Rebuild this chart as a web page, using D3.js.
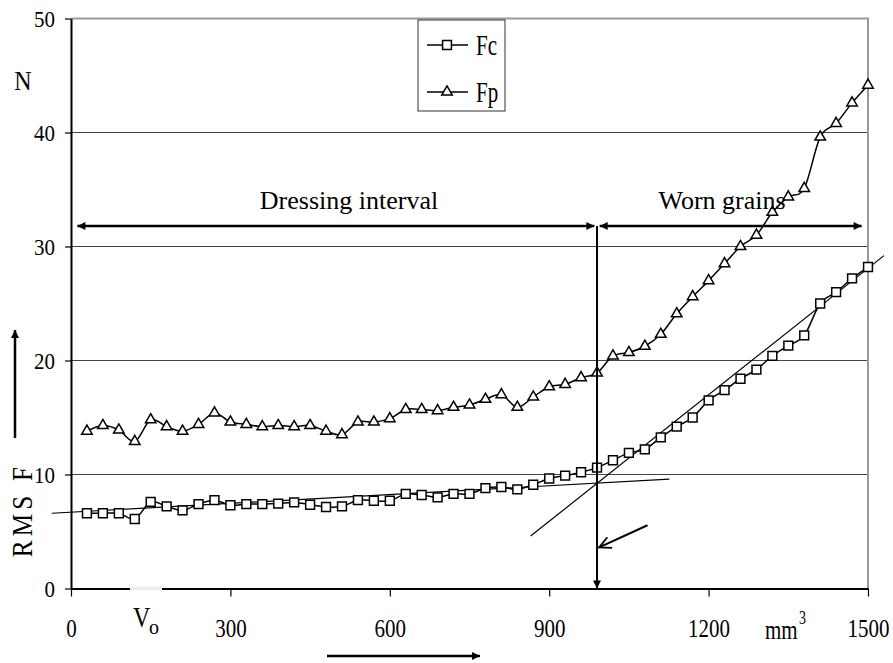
<!DOCTYPE html>
<html>
<head>
<meta charset="utf-8">
<script src="https://cdn.jsdelivr.net/npm/d3@7"></script>
<style>
  body { margin: 0; background: #fff; }
  svg { display: block; font-family: "Liberation Serif", "Times New Roman", serif; }
</style>
</head>
<body>
<div id="chart"></div>
<script>
////////////////////////////////////////////////////////////////////
////////////////////////////  Data  ////////////////////////////////

const volume = [30, 60, 90, 120, 150, 180, 210, 240, 270, 300,
  330, 360, 390, 420, 450, 480, 510, 540, 570, 600,
  630, 660, 690, 720, 750, 780, 810, 840, 870, 900,
  930, 960, 990, 1020, 1050, 1080, 1110, 1140, 1170, 1200,
  1230, 1260, 1290, 1320, 1350, 1380, 1410, 1440, 1470, 1500];

const fc = [6.6, 6.6, 6.6, 6.1, 7.6, 7.2, 6.85, 7.4, 7.75, 7.3,
  7.4, 7.4, 7.45, 7.55, 7.35, 7.15, 7.2, 7.75, 7.7, 7.7,
  8.3, 8.2, 8.0, 8.3, 8.3, 8.8, 8.9, 8.7, 9.1, 9.65,
  9.9, 10.2, 10.6, 11.25, 11.9, 12.2, 13.25, 14.2, 15.0, 16.5,
  17.4, 18.4, 19.2, 20.4, 21.3, 22.2, 25.0, 26.0, 27.2, 28.2];

const fp = [13.8, 14.3, 13.9, 12.9, 14.8, 14.2, 13.8, 14.4, 15.4, 14.6,
  14.4, 14.2, 14.3, 14.2, 14.3, 13.8, 13.5, 14.6, 14.6, 14.9,
  15.7, 15.7, 15.6, 15.9, 16.1, 16.6, 17.0, 15.9, 16.8, 17.7,
  17.9, 18.5, 18.9, 20.4, 20.7, 21.25, 22.3, 24.1, 25.6, 27.0,
  28.5, 30.0, 31.0, 33.0, 34.35, 35.1, 39.6, 40.8, 42.6, 44.15];

const xTicks = [0, 300, 600, 900, 1200, 1500];
const yTicks = [0, 10, 20, 30, 40, 50];

// tangent lines [x, F]
const tangentFlat = [[-36, 6.6], [1126, 9.6]];
const tangentSteep = [[865, 4.6], [1530, 29.2]];

// interval markers
const markVolume = 990;
const intervalLevel = 31.8;
const dressing = [12, 985];
const worn = [995, 1488];
const pointer = [[1085, 5.55], [994, 3.6]];

////////////////////////////////////////////////////////////////////
////////////////////////////  Init  ////////////////////////////////

const width = 893;
const height = 663;
const margin = { top: 18.5, right: 25, bottom: 74.5, left: 71 };
const serif = '"Liberation Serif", "Times New Roman", serif';

const svg = d3.select("#chart").append("svg")
  .attr("width", width)
  .attr("height", height);

svg.append("rect").attr("width", width).attr("height", height).attr("fill", "#fff");

const defs = svg.append("defs");
defs.append("marker")
  .attr("id", "head")
  .attr("viewBox", "0 0 10 10")
  .attr("refX", 10).attr("refY", 5)
  .attr("markerWidth", 10).attr("markerHeight", 8)
  .attr("markerUnits", "userSpaceOnUse")
  .attr("orient", "auto-start-reverse")
  .append("path")
  .attr("d", "M0,0 L10,5 L0,10 z")
  .attr("fill", "#000");

defs.append("marker")
  .attr("id", "open")
  .attr("viewBox", "0 0 12 12")
  .attr("refX", 11).attr("refY", 6)
  .attr("markerWidth", 14).attr("markerHeight", 14)
  .attr("markerUnits", "userSpaceOnUse")
  .attr("orient", "auto")
  .append("path")
  .attr("d", "M1,1 L11,6 L1,11")
  .attr("fill", "none")
  .attr("stroke", "#000")
  .attr("stroke-width", 1.6);

// scales
const xScale = d3.scaleLinear().domain([0, 1500]).range([margin.left, width - margin.right]);
const yScale = d3.scaleLinear().domain([0, 50]).range([height - margin.bottom, margin.top]);

// gridlines
svg.append("g")
  .selectAll("line")
  .data(yTicks.filter((d) => d > 0 && d < 50))
  .join("line")
  .attr("x1", xScale(0)).attr("x2", xScale(1500))
  .attr("y1", (d) => yScale(d)).attr("y2", (d) => yScale(d))
  .attr("stroke", "#444")
  .attr("stroke-width", 1);

// plot border top / right
svg.append("path")
  .attr("d", `M${xScale(0)},${yScale(50)} H${xScale(1500)} V${yScale(0)}`)
  .attr("fill", "none")
  .attr("stroke", "#999")
  .attr("stroke-width", 2);

// axis
const xAxis = d3.axisBottom(xScale)
  .tickValues(xTicks)
  .tickFormat(d3.format("d"))
  .tickSize(8)
  .tickSizeOuter(0);
const yAxis = d3.axisLeft(yScale)
  .tickValues(yTicks)
  .tickFormat(d3.format("d"))
  .tickSize(6)
  .tickPadding(10)
  .tickSizeOuter(0);

const gx = svg.append("g")
  .attr("class", "x-axis")
  .attr("transform", `translate(0, ${yScale(0)})`)
  .call(xAxis);

const gy = svg.append("g")
  .attr("class", "y-axis")
  .attr("transform", `translate(${xScale(0)}, 0)`)
  .call(yAxis);

[gx, gy].forEach((g) => {
  g.attr("font-family", null);
  g.select(".domain").attr("stroke", "#000").attr("stroke-width", 2);
  g.selectAll(".tick line").attr("stroke", "#000").attr("stroke-width", 1.2);
  g.selectAll(".tick text")
    .attr("fill", "#000")
    .style("font-family", serif)
    .style("font-size", "21px");
});
gx.selectAll(".tick text").attr("y", 24).attr("transform", "scale(1,1.24)");
gy.selectAll(".tick text").attr("transform", "scale(1,1.12)");

// gap in x axis behind V0
svg.append("rect")
  .attr("x", 130).attr("y", yScale(0) - 2)
  .attr("width", 32).attr("height", 4)
  .attr("fill", "#eee");

////////////////////////////////////////////////////////////////////
////////////////////////////  Marks  ///////////////////////////////

const tangent = d3.line().x((d) => xScale(d[0])).y((d) => yScale(d[1]));
[tangentFlat, tangentSteep].forEach((t) => {
  svg.append("path")
    .attr("d", tangent(t))
    .attr("fill", "none")
    .attr("stroke", "#000")
    .attr("stroke-width", 1.2);
});

const series = [
  { name: "Fc", values: fc, symbol: d3.symbolSquare, size: 78 },
  { name: "Fp", values: fp, symbol: d3.symbolTriangle, size: 48 }
];

const line = d3.line()
  .curve(d3.curveCardinal.tension(0))
  .x((d, i) => xScale(volume[i]))
  .y((d) => yScale(d));

series.forEach((s) => {
  svg.append("path")
    .datum(s.values)
    .attr("d", line)
    .attr("fill", "none")
    .attr("stroke", "#000")
    .attr("stroke-width", 1.5);

  svg.append("g")
    .selectAll("path")
    .data(s.values)
    .join("path")
    .attr("transform", (d, i) => `translate(${xScale(volume[i])},${yScale(d)})`)
    .attr("d", d3.symbol(s.symbol, s.size))
    .attr("fill", "#fff")
    .attr("stroke", "#000")
    .attr("stroke-width", 1.5);
});

////////////////////////////////////////////////////////////////////
////////////////////////////  Annotations  /////////////////////////

// vertical marker down to the axis
svg.append("line")
  .attr("x1", xScale(markVolume)).attr("x2", xScale(markVolume))
  .attr("y1", yScale(intervalLevel)).attr("y2", yScale(0))
  .attr("stroke", "#000").attr("stroke-width", 2)
  .attr("marker-end", "url(#head)");

// interval arrows
[dressing, worn].forEach((r) => {
  svg.append("line")
    .attr("x1", xScale(r[0])).attr("x2", xScale(r[1]))
    .attr("y1", yScale(intervalLevel)).attr("y2", yScale(intervalLevel))
    .attr("stroke", "#000").attr("stroke-width", 2.5)
    .attr("marker-start", "url(#head)")
    .attr("marker-end", "url(#head)");
});

svg.append("path")
  .attr("d", tangent(pointer))
  .attr("fill", "none")
  .attr("stroke", "#000").attr("stroke-width", 2)
  .attr("marker-end", "url(#open)");

function label(x, y, txt, size, anchor, sy) {
  return svg.append("text")
    .attr("transform", `translate(${x},${y}) scale(1,${sy || 1})`)
    .attr("text-anchor", anchor || "start")
    .style("font-family", serif)
    .style("font-size", size + "px")
    .attr("fill", "#000")
    .text(txt);
}

label(349, 209, "Dressing interval", 26, "middle");
label(722, 209, "Worn grains", 26, "middle");

// y label
label(23, 90, "N", 24, "middle", 1.15);
svg.append("text")
  .attr("transform", "translate(32,510) rotate(-90) scale(1.05,1.2)")
  .attr("text-anchor", "middle")
  .style("font-family", serif)
  .style("font-size", "24px")
  .style("letter-spacing", "4px")
  .text("RMS F");
svg.append("line")
  .attr("x1", 15).attr("x2", 15).attr("y1", 438).attr("y2", 330)
  .attr("stroke", "#000").attr("stroke-width", 2.5)
  .attr("marker-end", "url(#head)");

// x label
label(133, 627, "V", 24, "start", 1.2);
label(149, 634, "o", 20, "start", 1.1);
label(765, 639, "mm", 21, "start", 1.3);
label(799, 624, "3", 14, "start", 1.3);
svg.append("line")
  .attr("x1", 327).attr("x2", 480).attr("y1", 656).attr("y2", 656)
  .attr("stroke", "#000").attr("stroke-width", 2.5)
  .attr("marker-end", "url(#head)");

////////////////////////////////////////////////////////////////////
////////////////////////////  Legend  //////////////////////////////

const legend = svg.append("g").attr("transform", "translate(418,20)");
legend.append("rect")
  .attr("width", 87).attr("height", 91)
  .attr("fill", "#fff").attr("stroke", "#333").attr("stroke-width", 1);

series.forEach((s, i) => {
  const y = 25 + i * 47;
  legend.append("line")
    .attr("x1", 9).attr("x2", 50).attr("y1", y).attr("y2", y)
    .attr("stroke", "#000").attr("stroke-width", 1.5);
  legend.append("path")
    .attr("transform", `translate(29,${y})`)
    .attr("d", d3.symbol(s.symbol, s.size))
    .attr("fill", "#fff").attr("stroke", "#000").attr("stroke-width", 1.5);
  legend.append("text")
    .attr("transform", `translate(58,${y + 10}) scale(1,1.38)`)
    .style("font-family", serif)
    .style("font-size", "21px")
    .text(s.name);
});
</script>
</body>
</html>
